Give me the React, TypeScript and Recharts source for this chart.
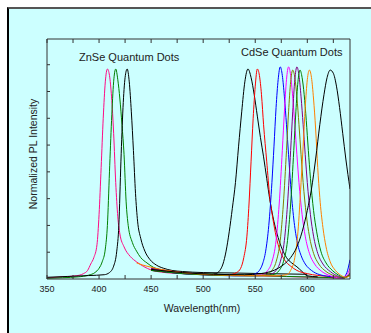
import React from "react";
import { LineChart, Line, XAxis, YAxis } from "recharts";

// wavelength (nm), normalized PL intensity
const znsePink: [number, number][] = [
  [350, 0.005], [365, 0.01], [378, 0.015], [385, 0.025], [389, 0.04], [392, 0.07], [395, 0.1],
  [398, 0.16], [400, 0.3], [402, 0.52], [404, 0.75], [406, 0.92], [408, 0.98], [410, 0.95],
  [412, 0.85], [414, 0.68], [416, 0.45], [418, 0.29], [420, 0.21], [424, 0.15], [430, 0.105],
  [436, 0.08], [443, 0.058], [450, 0.042], [460, 0.032], [480, 0.025], [510, 0.02], [550, 0.015],
  [590, 0.01], [620, 0.006], [636, 0.004],
];
const znseGreen: [number, number][] = [
  [350, 0.003], [365, 0.006], [380, 0.01], [390, 0.018], [396, 0.03], [400, 0.05], [403, 0.08],
  [406, 0.14], [408, 0.25], [410, 0.5], [412, 0.74], [414, 0.92], [416, 0.98], [418, 0.93],
  [420, 0.84], [422, 0.72], [424, 0.58], [426, 0.36], [428, 0.25], [432, 0.17], [436, 0.13],
  [440, 0.1], [446, 0.075], [452, 0.055], [460, 0.042], [475, 0.032], [500, 0.025], [540, 0.018],
  [580, 0.012], [620, 0.007], [636, 0.004],
];
const znseBlack: [number, number][] = [
  [350, 0.008], [370, 0.012], [390, 0.016], [405, 0.02], [410, 0.03], [414, 0.06], [417, 0.13],
  [419, 0.25], [421, 0.55], [423, 0.8], [425, 0.94], [427, 0.98], [429, 0.92], [431, 0.78],
  [433, 0.6], [435, 0.4], [437, 0.27], [440, 0.19], [444, 0.13], [449, 0.09], [455, 0.065],
  [462, 0.05], [470, 0.04], [480, 0.035], [500, 0.03], [530, 0.028], [560, 0.025], [600, 0.022],
];
const cdse543: [number, number][] = [
  [450, 0.04], [470, 0.03], [490, 0.022], [505, 0.02], [512, 0.025], [516, 0.04], [519, 0.07],
  [522, 0.13], [525, 0.22], [528, 0.33], [531, 0.45], [534, 0.62], [537, 0.78], [540, 0.92],
  [543, 0.98], [546, 0.94], [549, 0.86], [552, 0.76], [555, 0.66], [558, 0.57], [561, 0.47],
  [564, 0.37], [567, 0.29], [571, 0.21], [575, 0.15], [580, 0.1], [585, 0.075], [590, 0.057],
  [595, 0.035], [600, 0.015], [610, 0.01],
];
const cdse552: [number, number][] = [
  [450, 0.05], [470, 0.035], [490, 0.025], [510, 0.02], [525, 0.02], [532, 0.03], [536, 0.05],
  [539, 0.1], [542, 0.2], [544, 0.35], [546, 0.55], [548, 0.75], [550, 0.9], [552, 0.98],
  [554, 0.95], [556, 0.86], [558, 0.72], [561, 0.55], [564, 0.38], [567, 0.28], [570, 0.2],
  [574, 0.13], [578, 0.09], [584, 0.06], [590, 0.04], [600, 0.025], [620, 0.012], [635, 0.006],
  [641, 0.02],
];
const cdse574: [number, number][] = [
  [450, 0.045], [470, 0.03], [500, 0.02], [530, 0.015], [545, 0.018], [550, 0.025], [554, 0.04],
  [557, 0.07], [560, 0.13], [563, 0.25], [566, 0.45], [568, 0.62], [570, 0.8], [572, 0.93],
  [574, 0.99], [576, 0.95], [578, 0.85], [580, 0.72], [582, 0.58], [584, 0.44], [587, 0.28],
  [590, 0.18], [594, 0.11], [598, 0.07], [604, 0.04], [612, 0.02], [625, 0.01], [634, 0.005],
  [638, 0.03], [641, 0.09],
];
const cdse582: [number, number][] = [
  [450, 0.05], [475, 0.03], [500, 0.02], [540, 0.015], [556, 0.02], [562, 0.04], [566, 0.08],
  [570, 0.18], [573, 0.35], [576, 0.6], [578, 0.78], [580, 0.93], [582, 0.99], [584, 0.95],
  [586, 0.85], [588, 0.72], [590, 0.58], [592, 0.45], [595, 0.3], [598, 0.2], [602, 0.12],
  [607, 0.07], [614, 0.035], [622, 0.015], [632, 0.005], [638, 0.02], [641, 0.05],
];
const cdse586: [number, number][] = [
  [450, 0.045], [480, 0.028], [510, 0.018], [545, 0.015], [560, 0.02], [566, 0.04], [570, 0.08],
  [574, 0.18], [577, 0.35], [580, 0.6], [582, 0.78], [584, 0.92], [586, 0.975], [588, 0.94],
  [590, 0.85], [592, 0.72], [594, 0.58], [596, 0.45], [599, 0.3], [602, 0.2], [606, 0.12],
  [611, 0.07], [618, 0.035], [626, 0.015], [634, 0.006], [641, 0.02],
];
const cdse590: [number, number][] = [
  [450, 0.05], [480, 0.03], [510, 0.02], [550, 0.015], [564, 0.02], [570, 0.04], [574, 0.08],
  [578, 0.18], [581, 0.35], [584, 0.6], [586, 0.78], [588, 0.93], [590, 0.99], [592, 0.95],
  [594, 0.85], [596, 0.72], [598, 0.58], [600, 0.45], [603, 0.3], [606, 0.2], [610, 0.12],
  [615, 0.07], [622, 0.035], [630, 0.012], [636, 0.006], [641, 0.03],
];
const cdse593: [number, number][] = [
  [450, 0.04], [480, 0.025], [510, 0.018], [550, 0.015], [567, 0.02], [573, 0.04], [577, 0.08],
  [581, 0.18], [584, 0.35], [587, 0.6], [589, 0.78], [591, 0.92], [593, 0.975], [595, 0.94],
  [597, 0.86], [599, 0.74], [601, 0.6], [603, 0.47], [606, 0.32], [609, 0.22], [613, 0.13],
  [618, 0.075], [624, 0.04], [630, 0.018], [636, 0.007], [641, 0.02],
];
const cdse602: [number, number][] = [
  [436, 0.075], [442, 0.065], [450, 0.055], [465, 0.04], [480, 0.03], [500, 0.022], [540, 0.016],
  [570, 0.015], [580, 0.02], [584, 0.04], [588, 0.1], [591, 0.22], [594, 0.45], [596, 0.62],
  [598, 0.8], [600, 0.93], [602, 0.975], [604, 0.94], [606, 0.84], [608, 0.7], [610, 0.52],
  [612, 0.38], [615, 0.24], [618, 0.15], [622, 0.08], [627, 0.04], [632, 0.018], [637, 0.008],
  [641, 0.015],
];
const cdse622: [number, number][] = [
  [450, 0.045], [480, 0.03], [510, 0.022], [540, 0.02], [555, 0.025], [565, 0.035], [572, 0.05],
  [578, 0.07], [584, 0.1], [590, 0.15], [595, 0.22], [600, 0.32], [604, 0.42], [608, 0.56],
  [612, 0.72], [616, 0.86], [619, 0.94], [622, 0.975], [625, 0.96], [628, 0.9], [631, 0.8],
  [634, 0.68], [637, 0.56], [641, 0.42],
];

const xTicks = [350, 375, 400, 425, 450, 475, 500, 525, 550, 575, 600, 625];
const yTicks = [0.125, 0.25, 0.375, 0.5, 0.625, 0.75, 0.875, 1.0];

const series = [
  { name: "ZnSe 408", pts: znsePink, color: "#ff0a84" },
  { name: "ZnSe 416", pts: znseGreen, color: "#008000" },
  { name: "ZnSe 426", pts: znseBlack, color: "#000000" },
  { name: "CdSe 543", pts: cdse543, color: "#000000" },
  { name: "CdSe 552", pts: cdse552, color: "#ff0000" },
  { name: "CdSe 574", pts: cdse574, color: "#0000ff" },
  { name: "CdSe 582", pts: cdse582, color: "#ff00ff" },
  { name: "CdSe 586", pts: cdse586, color: "#808000" },
  { name: "CdSe 590", pts: cdse590, color: "#800080" },
  { name: "CdSe 593", pts: cdse593, color: "#008000" },
  { name: "CdSe 602", pts: cdse602, color: "#ff8000" },
  { name: "CdSe 622", pts: cdse622, color: "#000000" },
];

const FONT = "'Liberation Sans', Arial, sans-serif";
const AXIS = "#333";

export default function App() {
  return (
    <div
      style={{
        position: "absolute",
        left: 0,
        top: 0,
        width: 371,
        height: 333,
        background: "#fff",
        fontFamily: FONT,
        overflow: "hidden",
      }}
    >
      <div
        style={{
          position: "absolute",
          left: 7,
          top: 7,
          width: 371,
          height: 333,
          background: "#ccffff",
          borderLeft: "2px solid #000",
          borderTop: "2px solid #555",
        }}
      />
      <div style={{ position: "absolute", left: 0, top: 0 }}>
        <LineChart
          width={371}
          height={333}
          margin={{ top: 34, right: 16, bottom: 24, left: 27 }}
        >
          <XAxis
            type="number"
            dataKey="x"
            domain={[350, 641]}
            allowDataOverflow
            ticks={xTicks}
            interval={0}
            height={30}
            tickSize={-4}
            tickMargin={11}
            stroke={AXIS}
            tick={{ fontSize: 9, fill: "#222", fontFamily: FONT }}
            tickFormatter={(v: number) => (v % 50 === 0 ? String(v) : "")}
          />
          <XAxis
            xAxisId="top"
            orientation="top"
            type="number"
            dataKey="x"
            domain={[350, 641]}
            allowDataOverflow
            ticks={xTicks}
            interval={0}
            height={5}
            tickSize={-4}
            stroke={AXIS}
            tickFormatter={() => ""}
          />
          <YAxis
            type="number"
            dataKey="y"
            domain={[0, 1.12]}
            allowDataOverflow
            ticks={yTicks}
            interval={0}
            width={20}
            tickSize={-3}
            stroke={AXIS}
            tickFormatter={() => ""}
          />
          <YAxis
            yAxisId="right"
            orientation="right"
            type="number"
            domain={[0, 1.12]}
            ticks={yTicks}
            interval={0}
            width={5}
            tickSize={-3}
            stroke={AXIS}
            tickFormatter={() => ""}
          />
          {series.map((s) => (
            <Line
              key={s.name}
              name={s.name}
              data={s.pts.map(([x, y]) => ({ x, y }))}
              dataKey="y"
              type="monotone"
              stroke={s.color}
              strokeWidth={1}
              dot={false}
              activeDot={false}
              isAnimationActive={false}
            />
          ))}
        </LineChart>
      </div>
      <svg
        width={371}
        height={333}
        style={{ position: "absolute", left: 0, top: 0, pointerEvents: "none" }}
      >
        <g fontFamily={FONT} fill="#222">
          <text x={79} y={60.6} fontSize={11}>
            ZnSe Quantum Dots
          </text>
          <text x={241} y={56.2} fontSize={11}>
            CdSe Quantum Dots
          </text>
          <text x={202} y={311.7} fontSize={10.5} textAnchor="middle">
            Wavelength(nm)
          </text>
          <text
            x={0}
            y={0}
            fontSize={10.5}
            textAnchor="middle"
            transform="translate(37 154) rotate(-90)"
          >
            Normalized PL Intensity
          </text>
        </g>
      </svg>
    </div>
  );
}
